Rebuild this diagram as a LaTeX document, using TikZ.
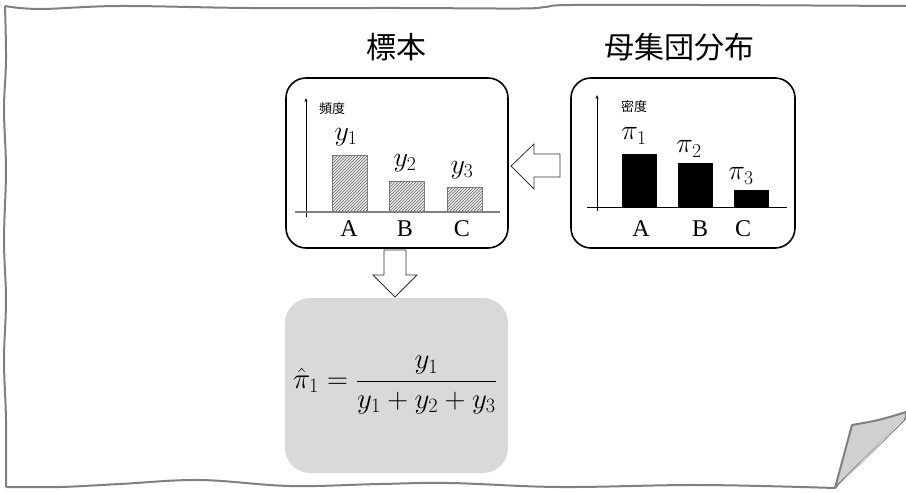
\RequirePackage{fix-cm}
\documentclass[tikz,border=0pt]{standalone}
\usepackage{fontspec}
\usepackage{amsmath}
\setmainfont{Liberation Serif}
\newfontfamily\jp{Noto Sans CJK JP}
\usetikzlibrary{patterns,arrows.meta}
\definecolor{framegray}{HTML}{808080}
\definecolor{foldgray}{HTML}{D0D0D0}
\definecolor{boxgray}{HTML}{D9D9D9}
\tikzset{
  frameline/.style={draw=framegray, line width=2pt, line join=round},
  panel/.style={draw=black, line width=1.6pt, rounded corners=20pt},
  hatchbar/.style={draw=gray, line width=0.8pt, fill=gray!15, postaction={pattern=north east lines, pattern color=gray!80!black}},
  solidbar/.style={draw=black, fill=black},
  blockarrow/.style={draw=black!80, line width=0.8pt, fill=white, line join=miter},
  cat/.style={font=\fontsize{24}{28}\selectfont, inner sep=0pt},
  val/.style={font=\fontsize{28}{32}\selectfont, inner sep=0pt},
  axlab/.style={font=\jp\fontsize{13}{15}\selectfont, inner sep=0pt},
  title/.style={font=\jp\fontsize{30}{34}\selectfont, inner sep=0pt}
}
\begin{document}
\begin{tikzpicture}[x=1pt,y=-1pt]
\useasboundingbox (0,0) rectangle (906,493);
% paper frame
\draw[frameline] plot[smooth, tension=0.6] coordinates {(906,6) (700,5) (570,5) (545,7) (520,8.5) (400,8) (250,8) (120,6) (40,9) (5,6)};
\draw[frameline] plot[smooth, tension=0.6] coordinates {(5,6) (6,60) (4,110) (6,170) (4,240) (6,300) (4,360) (6,420) (6,487)};
\draw[frameline] plot[smooth, tension=0.6] coordinates {(6,487) (60,487) (120,484) (200,480) (290,486) (380,484) (450,483) (560,487) (700,485) (835,488)};
% curled corner
\draw[frameline, fill=foldgray] (835,488) -- (852,425) .. controls (880,420) .. (906,412) -- (906,418) -- cycle;
\draw[white, line width=0.6pt] (838,486) -- (904,419);
% titles
\node[title] (t1) at (396,47) {標本};
\node[title] (t2) at (679,47) {母集団分布};
% panels
\node[panel, minimum width=222pt, minimum height=170pt] (sample) at (397,163) {};
\node[panel, minimum width=224pt, minimum height=170pt] (pop) at (683,163) {};
% sample histogram
\coordinate (sy0) at (306,217);
\coordinate (sy1) at (306,98);
\draw[black, line width=0.7pt, -{Stealth[length=4pt,width=3pt]}] (sy0) -- (sy1);
\draw[hatchbar] (332,155) rectangle (367,212);
\draw[hatchbar] (389,181) rectangle (424,212);
\draw[hatchbar] (447,187) rectangle (482,212);
\coordinate (sx0) at (295,212);
\coordinate (sx1) at (500,212);
\draw[gray, line width=1.6pt] (sx0) -- (sx1);
\node[axlab] (f1) at (332,109) {頻度};
\node[val] (ly1) at (346,137) {$y_1$};
\node[val] (ly2) at (405,163) {$y_2$};
\node[val] (ly3) at (462,170) {$y_3$};
\node[cat] (sa) at (349,229) {A};
\node[cat] (sb) at (405,229) {B};
\node[cat] (sc) at (462,229) {C};
% population distribution
\coordinate (py0) at (597,211);
\coordinate (py1) at (597,95);
\draw[black, line width=0.7pt, -{Stealth[length=4pt,width=3pt]}] (py0) -- (py1);
\draw[solidbar] (622,154) rectangle (656,207);
\draw[solidbar] (678,163) rectangle (712,207);
\draw[solidbar] (734,190) rectangle (768,207);
\coordinate (px0) at (587,207);
\coordinate (px1) at (787,207);
\draw[black, line width=1pt] (px0) -- (px1);
\node[axlab] (f2) at (634,107) {密度};
\node[val] (lp1) at (634,136) {$\pi_1$};
\node[val] (lp2) at (689,149) {$\pi_2$};
\node[val] (lp3) at (741,176) {$\pi_3$};
\node[cat] (pa) at (641,229) {A};
\node[cat] (pb) at (700,229) {B};
\node[cat] (pc) at (743,229) {C};
% block arrows
\draw[blockarrow] (560,154) -- (534,154) -- (534,144) -- (511,166) -- (534,189) -- (534,177) -- (560,177) -- cycle;
\draw[blockarrow] (384,250) -- (406,250) -- (406,275) -- (417,275) -- (395,297) -- (373,275) -- (384,275) -- cycle;
% estimate box
\node[fill=boxgray, rounded corners=25pt, minimum width=223pt, minimum height=175pt, inner sep=0pt] (est) at (396.5,385.5) {};
\node[inner sep=0pt, font=\fontsize{29}{34}\selectfont] (formula) at (395,385) {$\hat{\pi}_1 = \dfrac{y_1}{y_1+y_2+y_3}$};
\end{tikzpicture}
\end{document}
